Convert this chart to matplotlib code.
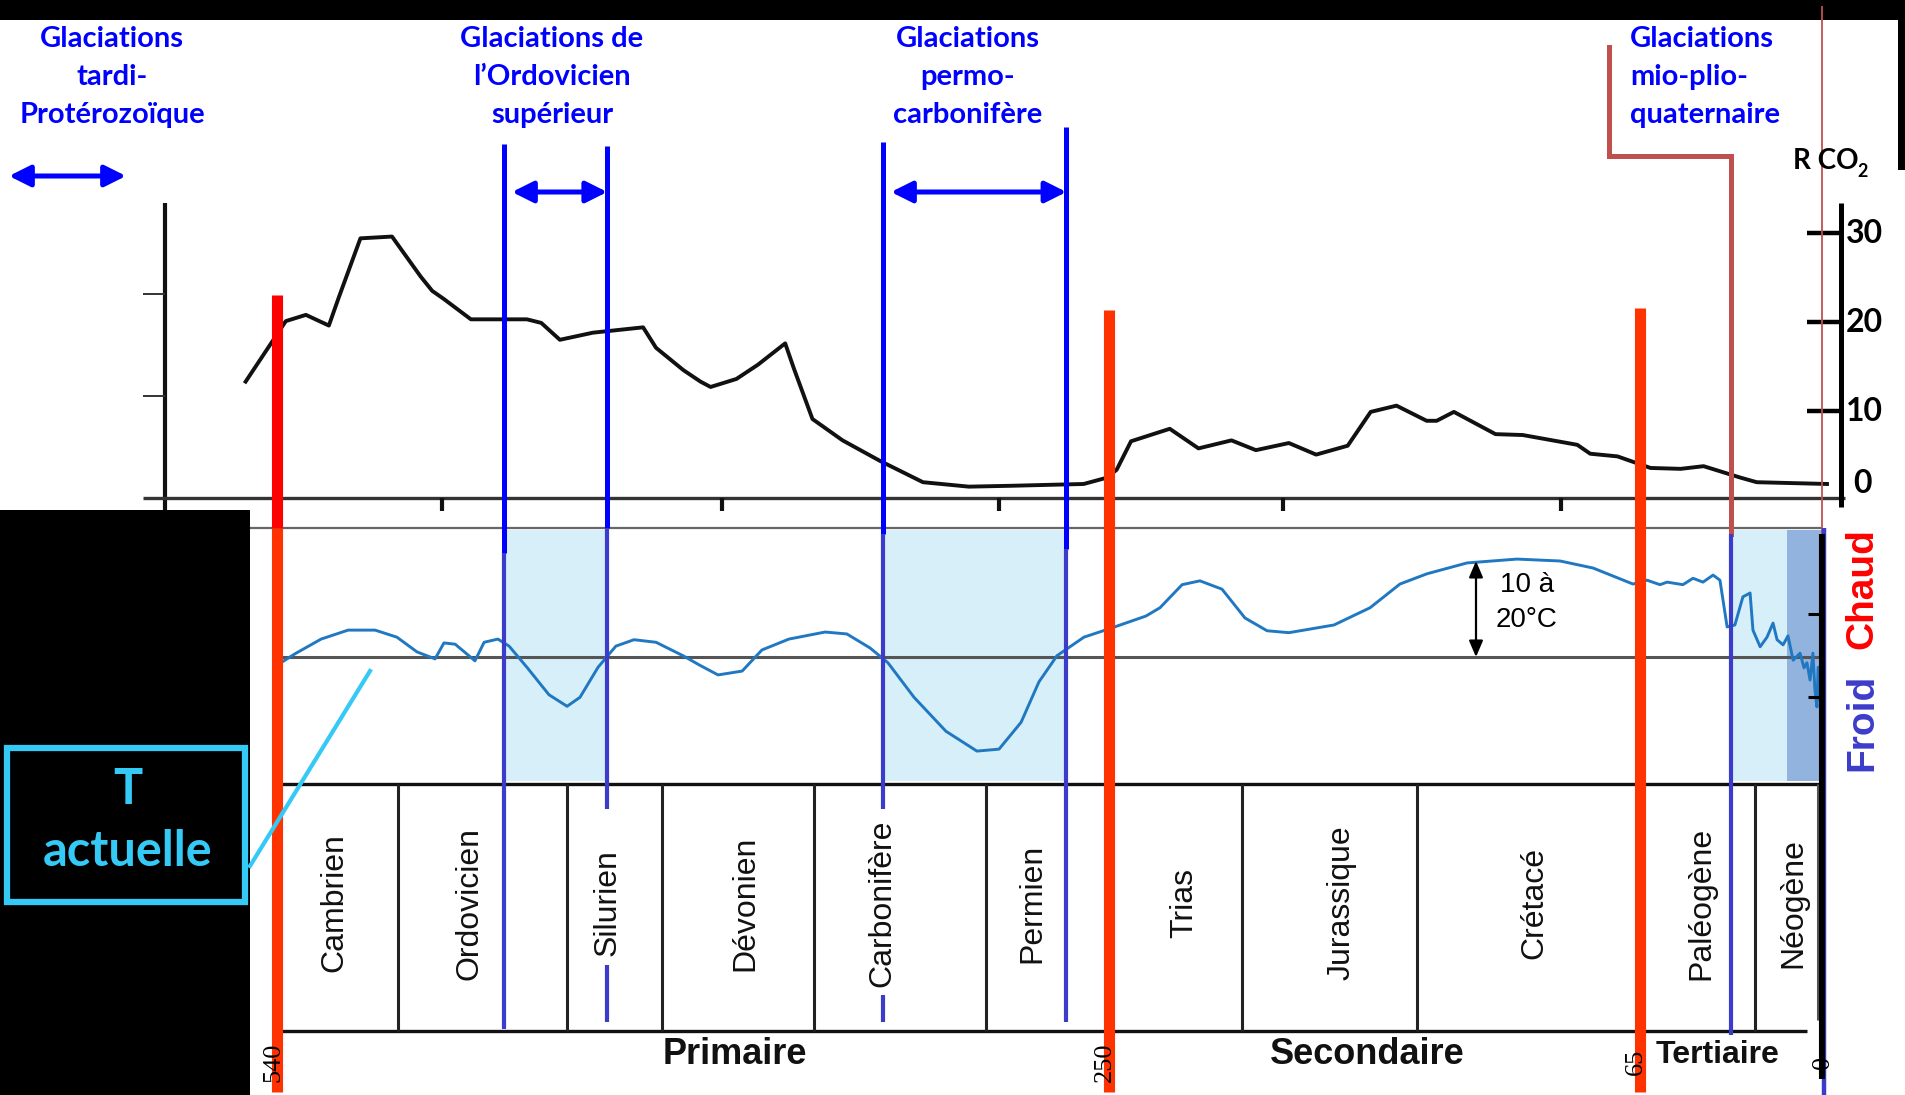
import matplotlib
matplotlib.use("Agg")
import matplotlib.pyplot as plt
from matplotlib.patches import Rectangle

W, H = 1905, 1095
AGE0_PX = 1827.0      # pixel column of 0 Ma
PX_PER_MA = 2.87
CO2_ZERO_PX, CO2_PX = 500.0, 8.9   # pixel row of R CO2 = 0, pixels per unit
T_ZERO_PX, T_PX = 657.0, 6.4       # pixel row of present temperature, pixels per degree


def age(x):
    """pixel column -> age in Ma"""
    return (AGE0_PX - x) / PX_PER_MA


AGE_LEFT, AGE_RIGHT = age(0), age(W)

# ---- data ----
co2_age = [551, 537, 530, 522, 518.5, 511, 500, 490, 486, 482, 472.5, 453, 448, 441.5,
           430, 412.5, 408, 398.5, 392.5, 389, 380, 372.5, 363, 360, 353.5, 343, 330,
           315, 299, 284, 259, 251, 247.5, 242.5, 229, 219, 207.5, 199, 187.5, 178,
           167, 159, 150, 139.5, 136, 130, 115.5, 106, 87, 82.5, 73, 61.5, 51, 43,
           30, 24.5, 0]
co2_val = [13.3, 20.1, 20.8, 19.6, 22.8, 29.4, 29.6, 25.1, 23.5, 22.6, 20.3, 20.3, 19.9,
           18.0, 18.8, 19.4, 17.1, 14.6, 13.3, 12.7, 13.6, 15.2, 17.6, 14.8, 9.1, 6.7,
           4.4, 2.0, 1.5, 1.6, 1.8, 2.5, 3.4, 6.6, 8.0, 5.8, 6.7, 5.6, 6.4, 5.1, 6.1,
           9.9, 10.6, 8.9, 8.9, 9.9, 7.4, 7.3, 6.2, 5.2, 4.9, 3.6, 3.5, 3.8, 2.5, 2.0, 1.8]

t_age = [538.7, 533.8, 524.7, 515.3, 505.9, 498.3, 491.3, 485, 481.9, 478, 473.2, 471.1,
         467.9, 463.1, 459.2, 453, 445.3, 439, 434.5, 428.2, 422, 415.7, 408, 398.6,
         392.7, 386.4, 378, 371.1, 361.7, 349.1, 341.5, 333.4, 327.2, 318.1, 307,
         296.2, 288.5, 280.8, 274.6, 268.3, 258.9, 249.5, 237.3, 232.4, 224.7, 218.5,
         210.8, 202.8, 195.1, 187.5, 171.8, 159.2, 148.8, 139.4, 125.4, 108, 93, 81.5,
         67.6, 62.7, 58.2, 55.7, 50.2, 46.7, 43.2, 39.7, 37.3, 34.8, 32.1, 29.3, 26.8,
         25.8, 23.3, 20.9, 18.8, 17.4, 15.3, 13.6, 11.8, 9.4, 8.0, 7.0, 5.9, 4.9, 4.2,
         3.5, 3.1, 2.4]
t_val = [-0.9, 0.5, 2.8, 4.2, 4.2, 3.1, 0.8, -0.3, 2.2, 2.0, 0.2, -0.6, 2.3, 2.8, 1.7,
         -1.6, -5.9, -7.7, -6.3, -1.6, 1.7, 2.7, 2.3, 0.2, -1.3, -2.8, -2.2, 1.1, 2.8,
         3.9, 3.6, 1.4, -0.9, -6.3, -11.6, -14.7, -14.4, -10.2, -3.9, 0.2, 3.1, 4.5,
         6.4, 7.7, 11.3, 11.9, 10.6, 6.1, 4.1, 3.8, 5.0, 7.7, 11.4, 13.0, 14.7, 15.3,
         15.0, 13.9, 11.4, 12.0, 11.3, 11.7, 11.3, 12.3, 11.7, 12.8, 12.0, 4.7, 5.0,
         9.4, 10.0, 4.2, 1.6, 3.1, 5.3, 2.7, 1.9, 3.3, -0.5, 0.6, -1.7, -0.9, -3.6,
         0.6, -5.2, -7.8, -1.6, -6.7]

periods = ["Cambrien", "Ordovicien", "Silurien", "Dévonien", "Carbonifère", "Permien",
           "Trias", "Jurassique", "Crétacé", "Paléogène", "Néogène"]
period_bounds = [540, 498, 439, 406, 353, 293, 250, 204, 143, 65, 25, 3]
period_label_age = [520, 473, 425, 377, 329, 277, 224, 169, 102, 43.6, 11.8]

eras = ["Primaire", "Secondaire", "Tertiaire"]
era_label_age = [380.5, 160.3, 38]
era_size = [26, 26, 23]

crisis_ages = [540, 250, 65, 0]

glac_titles = [["Glaciations", "tardi-", "Protérozoïque"],
               ["Glaciations de", "l’Ordovicien", "supérieur"],
               ["Glaciations", "permo-", "carbonifère"],
               ["Glaciations", "mio-plio-", "quaternaire"]]
glac_start = [461, 329, 33.5]
glac_end = [425, 265, 1.7]

co2_ticks = [10, 20, 30]
co2_old_ticks = [23.1, 11.7]
co2_x_ticks = [482.6, 385, 288.5, 189.5, 92.7]

# ---- colours ----
BLUE = "#0000FF"
SLATE = "#3C3CCB"
RED = "#FF0000"
ORANGE = "#FF3300"
BROWN = "#C0504D"
CYAN = "#35C9F5"
TCURVE = "#1F78C1"
SHADE = "#D6EFF9"
SHADE_DARK = "#93B3DF"

fig = plt.figure(figsize=(W / 100, H / 100), dpi=100)
fig.patch.set_facecolor("white")


def layer(z, ylim):
    ax = fig.add_axes([0, 0, 1, 1], zorder=z)
    ax.set_xlim(AGE_LEFT, AGE_RIGHT)
    ax.set_ylim(*ylim)
    ax.set_axis_off()
    ax.patch.set_visible(False)
    return ax


ax_bg = layer(0, (H, 0))
ax_co2 = layer(1, ((CO2_ZERO_PX - H) / CO2_PX, CO2_ZERO_PX / CO2_PX))
ax_t = layer(1.5, ((T_ZERO_PX - H) / T_PX, T_ZERO_PX / T_PX))
ax_fg = layer(2, (H, 0))

# ---- background blocks ----
ax_bg.fill_between([AGE_LEFT, AGE_RIGHT], 0, 20, color="black", lw=0)
ax_bg.fill_between([age(1898), AGE_RIGHT], 0, 170, color="black", lw=0)
ax_bg.fill_between([AGE_LEFT, age(250)], 510, H, color="black", lw=0)

# glacial shading in temperature panel
for s, e in zip(glac_start[:2], glac_end[:2]):
    ax_bg.fill_between([s, e], 530, 781, color=SHADE, lw=0)
ax_bg.fill_between([glac_start[2], 13.9], 530, 781, color=SHADE, lw=0)
ax_bg.fill_between([13.9, glac_end[2]], 530, 781, color=SHADE_DARK, lw=0)

# panel frames
ax_bg.hlines(528, age(250), age(1822), color="#666666", lw=1.6)
ax_bg.hlines(784, age(281), age(1822), color="#111111", lw=2.4)
ax_bg.hlines(1031, age(281), age(1807), color="#111111", lw=2.4)
ax_bg.vlines(period_bounds[1:-1], 784, 1031, color="#222222", lw=2.2)
ax_bg.vlines(period_bounds[-1], 784, 1020, color="#555555", lw=2.2)

# ---- CO2 panel ----
ax_co2.plot(co2_age, co2_val, color="#111111", lw=2.8, solid_joinstyle="round")
ax_co2.vlines(age(165), -1.1, 33.4, color="#111111", lw=3)
ax_co2.hlines(co2_old_ticks, age(143), age(165), color="#333333", lw=1.4)
ax_co2.hlines(0.2, age(143), age(1845), color="#333333", lw=2.4)
ax_co2.vlines(co2_x_ticks, -1.2, 0.2, color="#111111", lw=3)
ax_co2.vlines(age(1841), -0.8, 33.4, color="black", lw=3.6)
ax_co2.hlines(co2_ticks, age(1807), age(1841), color="black", lw=3.2)
for v in co2_ticks:
    ax_co2.text(age(1846), v, str(v), ha="left", va="center", fontsize=23,
                fontweight="bold", family="Lato", color="black")
ax_co2.text(age(1853), 0.8, "0", ha="left", va="baseline", fontsize=23,
            fontweight="bold", family="Lato", color="black")

# ---- temperature panel ----
ax_t.hlines(0, age(281), age(1822), color="#555555", lw=2.2)
ax_t.plot(t_age, t_val, color=TCURVE, lw=2.1, solid_joinstyle="round")
ax_t.hlines([6.7, -6.25], age(1808), age(1822), color="black", lw=2.2)
ax_t.annotate("", xy=(122.3, 15), xytext=(122.3, 0),
              arrowprops=dict(arrowstyle="<|-|>,head_length=0.7,head_width=0.3",
                              color="black", lw=1.6, mutation_scale=14,
                              shrinkA=0, shrinkB=0))

# ---- vertical markers ----
# glaciation bounds: x, top, colour switch, bottom, optional dash
blue_lines = [(461, 144, 553, 1029, None),
              (425, 146, 528, 809, (965, 1022)),
              (329, 142, 534, 809, (995, 1022)),
              (265, 127, 549, 1022, None)]
for x, top, mid, bot, dash in blue_lines:
    ax_fg.vlines(x, top, mid, color=BLUE, lw=3.6)
    ax_fg.vlines(x, mid, bot, color=SLATE, lw=3.0)
    if dash:
        ax_fg.vlines(x, dash[0], dash[1], color=SLATE, lw=3.0)

# Cenozoic bracket
ax_fg.plot([age(1609), age(1609), glac_start[2], glac_start[2]], [47, 156, 156, 534],
           color=BROWN, lw=3.6, solid_joinstyle="miter")
ax_fg.vlines(glac_start[2], 534, 1035, color=SLATE, lw=3.0)

# extinction / era boundaries
ax_fg.vlines(540, 295, 528, color=RED, lw=8)
ax_fg.vlines(540, 528, 1092, color=ORANGE, lw=8)
ax_fg.vlines([250, 65], [310, 308], 1092, color=ORANGE, lw=8)

# present day
ax_fg.vlines(1.7, 6, 534, color=BROWN, lw=1.3)
ax_fg.vlines(1.2, 528, H, color=SLATE, lw=3.2)
ax_fg.vlines(1.9, 534, 1079, color="black", lw=4.4)

# ---- texts ----
title_x = [age(112), age(552), age(968), age(1630)]
title_ha = ["center", "center", "center", "left"]
for lines, x, ha in zip(glac_titles, title_x, title_ha):
    for txt, yb in zip(lines, [47, 85, 123]):
        ax_fg.text(x, yb, txt, ha=ha, va="baseline", color=BLUE, fontsize=21,
                   fontweight="bold", family="Lato")


def darrow(x1, x2, y):
    ax_fg.annotate("", xy=(x2, y), xytext=(x1, y),
                   arrowprops=dict(arrowstyle="<|-|>,head_length=0.8,head_width=0.4",
                                   color=BLUE, lw=3.6, mutation_scale=16,
                                   shrinkA=0, shrinkB=0))


darrow(age(9), age(126), 176)
darrow(age(512), glac_end[0], 192)
darrow(age(891), glac_end[1], 192)

ax_fg.text(age(1793), 169, "R CO", ha="left", va="baseline", fontsize=20,
           fontweight="bold", family="Lato", color="black")
ax_fg.text(age(1857), 177, "2", ha="left", va="baseline", fontsize=13,
           fontweight="bold", family="Lato", color="black")

ax_fg.text(age(1527), 585, "10 à", ha="center", va="center", fontsize=20,
           family="Liberation Sans", color="black")
ax_fg.text(age(1527), 620, "20°C", ha="center", va="center", fontsize=20,
           family="Liberation Sans", color="black")

ax_fg.text(age(1862), 589, "Chaud", rotation=90, ha="center", va="center", fontsize=28,
           fontweight="bold", family="Liberation Sans", color=RED)
ax_fg.text(age(1862), 722, "Froid", rotation=90, ha="center", va="center", fontsize=28,
           fontweight="bold", family="Liberation Sans", color=SLATE)

for name, a in zip(periods, period_label_age):
    ax_fg.text(a, 903, name, rotation=90, ha="center", va="center", fontsize=23,
               family="Liberation Sans", color="#111111")

for name, a, fs in zip(eras, era_label_age, era_size):
    ax_fg.text(a, 1055, name, ha="center", va="center", fontsize=fs,
               fontweight="bold", family="Liberation Sans", color="#111111")

for a in crisis_ages:
    ax_fg.text(a + 1.5, 1062, str(a), rotation=90, ha="center", va="center",
               fontsize=19, family="Liberation Serif", color="black")

# "T actuelle" call-out
ax_fg.add_patch(Rectangle((age(7), 748), age(245) - age(7), 154, fill=False,
                          edgecolor=CYAN, lw=4.5))
ax_fg.plot([age(250), age(370)], [866, 671], color=CYAN, lw=3)
ax_fg.text(age(128), 789, "T", ha="center", va="center", fontsize=35,
           fontweight="bold", family="Lato", color=CYAN)
ax_fg.text(age(128), 852, "actuelle", ha="center", va="center", fontsize=35,
           fontweight="bold", family="Lato", color=CYAN)

fig.savefig("out.png", dpi=100, facecolor="white")
